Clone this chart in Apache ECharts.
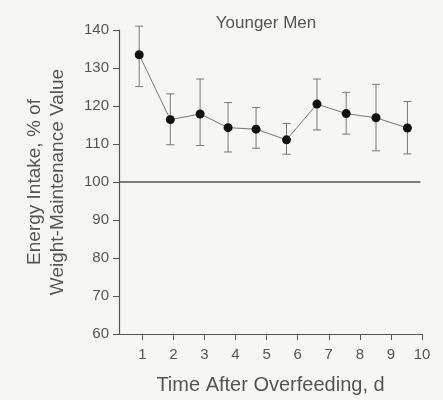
<!DOCTYPE html>
<html><head><meta charset="utf-8">
<script src="https://cdn.jsdelivr.net/npm/echarts@6/dist/echarts.min.js"></script>
<style>html,body{margin:0;padding:0;background:#f6f6f4}#c{width:443px;height:400px}</style>
</head><body><div id="c"></div>
<script>
var days = [0.9, 1.9, 2.86, 3.76, 4.66, 5.64, 6.62, 7.56, 8.52, 9.53];
var meanIntake = [133.5, 116.4, 117.9, 114.3, 113.9, 111.1, 120.5, 118.0, 116.9, 114.2];
var upperErr = [141.0, 123.2, 127.1, 120.9, 119.6, 115.4, 127.1, 123.6, 125.7, 121.2];
var lowerErr = [125.1, 109.8, 109.6, 107.9, 108.9, 107.3, 113.7, 112.6, 108.2, 107.4];
var xTicks = [1, 2, 3, 4, 5, 6, 7, 8, 9, 10];
var refLevel = 100;

var txt = '#555';
var font = 'Liberation Sans';
var pts = days.map(function(d, i){ return [d, meanIntake[i]]; });
var errs = days.map(function(d, i){ return [d, lowerErr[i], upperErr[i]]; });

var chart = echarts.init(document.getElementById('c'));
chart.setOption({
  backgroundColor: '#f6f6f4',
  animation: false,
  title: {
    text: 'Younger Men', left: 261, top: 10, textAlign: 'center',
    textStyle: {fontFamily: font, fontSize: 17, fontWeight: 'normal', color: txt}
  },
  grid: {left: 119, right: 21, top: 30, bottom: 64},
  xAxis: {
    type: 'value', min: 0.25, max: 10,
    name: 'Time After Overfeeding, d', nameLocation: 'middle', nameGap: 41,
    nameTextStyle: {fontFamily: font, fontSize: 20, color: txt},
    splitLine: {show: false},
    axisLine: {lineStyle: {color: '#555', width: 1.2}},
    axisTick: {customValues: xTicks, length: 6, lineStyle: {color: '#555'}},
    axisLabel: {customValues: xTicks, fontFamily: font, fontSize: 15, color: txt, margin: 13}
  },
  yAxis: {
    type: 'value', min: 60, max: 140, interval: 10,
    name: 'Energy Intake, % of\nWeight-Maintenance Value', nameLocation: 'middle', nameGap: 50,
    nameTextStyle: {fontFamily: font, fontSize: 19, color: txt, lineHeight: 23},
    splitLine: {show: false},
    axisLine: {show: true, lineStyle: {color: '#555', width: 1.2}},
    axisTick: {show: true, length: 6, lineStyle: {color: '#555'}},
    axisLabel: {fontFamily: font, fontSize: 15, color: txt, margin: 10}
  },
  series: [
    {
      type: 'custom',
      data: errs,
      renderItem: function(params, api){
        var x = api.value(0);
        var lo = api.coord([x, api.value(1)]);
        var hi = api.coord([x, api.value(2)]);
        var w = 4;
        var st = {stroke: '#777', lineWidth: 1};
        return {type: 'group', children: [
          {type: 'line', shape: {x1: lo[0], y1: lo[1], x2: hi[0], y2: hi[1]}, style: st},
          {type: 'line', shape: {x1: lo[0]-w, y1: lo[1], x2: lo[0]+w, y2: lo[1]}, style: st},
          {type: 'line', shape: {x1: hi[0]-w, y1: hi[1], x2: hi[0]+w, y2: hi[1]}, style: st}
        ]};
      },
      z: 1
    },
    {
      type: 'line',
      data: pts,
      symbol: 'circle', symbolSize: 9,
      itemStyle: {color: '#111'},
      lineStyle: {color: '#777', width: 1},
      markLine: {
        silent: true, symbol: 'none', label: {show: false},
        lineStyle: {color: '#555', width: 1.5, type: 'solid'},
        data: [[{coord: [0.25, refLevel]}, {coord: [9.95, refLevel]}]]
      },
      z: 3
    }
  ]
});
</script></body></html>
